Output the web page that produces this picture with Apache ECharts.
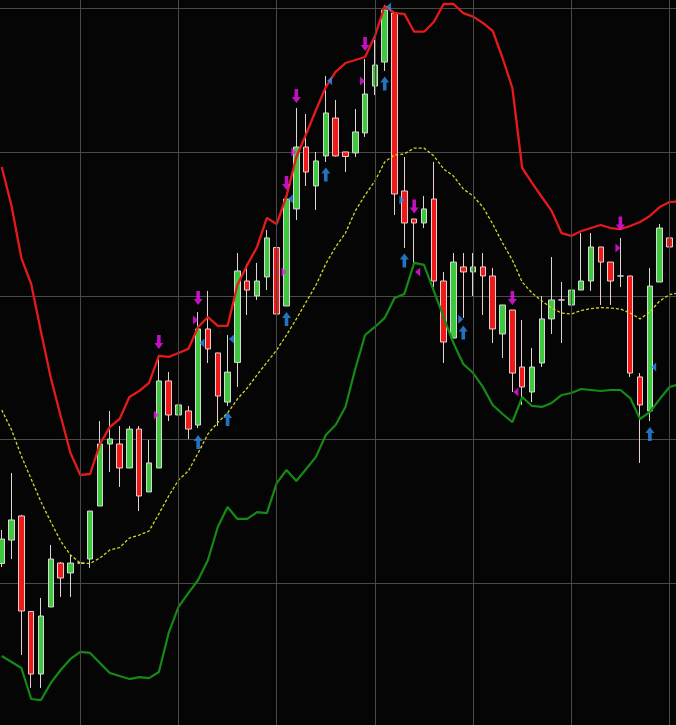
<!DOCTYPE html>
<html>
<head>
<meta charset="utf-8">
<script src="https://cdn.jsdelivr.net/npm/echarts@6/dist/echarts.min.js"></script>
<style>
html,body{margin:0;padding:0;background:#050505;}
#c{width:676px;height:725px;}
</style>
</head>
<body>
<div id="c"></div>
<script>
const categories = ['1','2','3','4','5','6','7','8','9','10','11','12','13','14','15','16','17','18','19','20',
'21','22','23','24','25','26','27','28','29','30','31','32','33','34','35','36','37','38','39','40',
'41','42','43','44','45','46','47','48','49','50','51','52','53','54','55','56','57','58','59','60',
'61','62','63','64','65','66','67','68','69','70'];

// [open, close, low, high]
const candles = [
[101.36,103.06,101.11,103.69],[102.99,104.39,101.67,107.66],[104.67,98.05,94.99,104.74],[98.02,93.66,92.69,98.05],
[93.66,97.70,92.69,98.96],[98.33,101.67,98.33,102.65],[101.39,100.35,99.03,101.46],[100.70,101.39,99.03,101.95],
[101.39,101.39,101.05,103.97],[101.67,105.01,101.05,105.01],[105.36,109.68,105.36,111.28],[109.68,110.03,107.73,111.98],
[109.68,108.01,106.69,110.93],[108.01,110.72,108.01,110.93],[110.72,106.06,105.01,110.93],[106.34,108.36,106.34,109.96],
[108.01,114.07,108.01,115.88],[114.07,111.70,111.28,114.69],[111.70,112.40,110.45,114.28],[111.98,110.72,110.03,112.33],
[111.00,117.69,110.79,118.87],[117.69,116.30,115.32,120.34],[116.02,113.02,110.93,116.02],[112.60,114.69,112.33,117.27],
[115.36,121.73,113.65,122.98],[121.03,120.40,118.66,122.22],[119.99,121.03,119.71,122.29],[121.31,124.03,120.40,124.58],
[123.36,118.73,118.73,124.58],[119.29,126.74,119.29,126.74],[126.05,130.36,125.28,133.08],[130.36,128.62,127.65,132.66],
[127.65,129.39,125.98,130.02],[129.74,132.73,129.32,135.31],[132.38,129.74,129.70,133.64],[130.02,129.70,128.62,130.02],
[129.95,131.41,129.67,133.01],[131.34,134.05,131.06,136.49],[134.61,136.07,133.98,137.81],[136.28,139.90,135.66,140.25],
[139.69,127.09,125.63,139.76],[127.30,125.07,123.33,129.67],[125.35,125.07,121.94,125.35],[125.07,126.05,124.72,126.95],
[126.74,121.03,120.61,129.32],[121.03,116.78,115.32,121.66],[117.06,122.35,117.06,122.98],[122.01,121.66,118.46,122.98],
[121.66,122.01,119.99,122.98],[122.01,121.38,118.66,122.98],[121.38,117.69,116.71,121.94],[117.34,119.36,115.67,119.36],
[119.01,114.62,113.30,119.01],[115.04,113.65,112.40,118.32],[113.30,115.04,112.60,116.37],[115.32,118.39,115.04,119.99],
[118.39,119.71,117.34,122.70],[119.71,119.71,116.71,120.96],[119.36,120.40,117.34,120.61],[120.40,121.03,120.40,124.37],
[121.03,123.40,120.34,124.37],[123.40,122.35,119.36,123.40],[122.35,121.03,119.36,122.35],[121.38,121.38,120.61,124.03],
[121.38,114.62,114.35,121.38],[114.35,112.40,108.36,114.62],[111.98,120.68,111.28,121.94],[120.96,124.72,120.96,125.00],
[124.03,123.40,123.26,128.62]
];

const upperBand = [128.97,126.25,122.63,120.82,117.48,114.28,111.63,109.05,107.52,107.59,
109.68,110.86,111.42,112.95,113.37,113.93,115.81,115.74,116.02,116.30,
117.83,118.52,117.90,117.90,120.75,122.15,123.40,125.42,125.00,126.95,
129.67,131.27,132.94,134.54,135.59,136.21,136.42,136.63,138.09,140.18,
139.69,139.63,138.39,138.39,139.07,140.32,140.32,139.69,139.44,139.00,
138.44,136.56,134.47,128.90,127.86,126.88,125.91,124.37,124.17,124.51,
124.72,124.93,124.72,124.65,124.86,125.14,125.56,126.18,126.53,126.57];

const middleBand = [112.05,110.66,108.84,107.24,105.64,104.25,102.92,101.95,101.39,101.36,
101.74,102.30,102.47,103.13,103.34,103.62,104.81,106.06,107.17,107.80,
109.05,110.38,111.18,111.84,112.81,113.58,114.49,115.36,116.23,117.27,
118.39,119.57,120.75,122.22,123.40,124.37,125.91,127.02,127.99,129.32,
129.81,129.88,130.29,130.29,129.74,128.83,128.34,127.44,126.95,126.18,
125.00,123.68,122.49,120.96,120.20,119.64,119.15,118.80,118.73,118.97,
119.11,119.18,119.15,119.08,118.80,118.39,118.87,119.64,120.09,120.20];

const lowerBand = [94.92,94.50,94.08,91.92,91.85,93.04,93.94,94.71,95.20,95.13,
94.43,93.73,93.52,93.31,93.45,93.38,93.80,96.52,98.33,99.30,
100.21,101.60,103.90,105.29,104.46,104.46,104.94,104.87,106.96,107.87,
107.10,107.94,108.78,110.31,111.00,112.26,114.90,117.27,117.83,118.46,
119.85,120.13,122.29,122.15,120.34,118.52,116.71,115.25,114.62,113.65,
112.40,111.77,111.21,112.95,112.33,112.26,112.54,113.09,113.23,113.51,
113.44,113.37,113.44,113.44,112.88,111.42,111.91,112.81,113.65,113.84];

// [candle index, price]
const sellArrows = [[16,116.78],[20,119.85],[29,127.86],[30,133.92],[37,137.54],[42,126.22],[52,119.85],[63,125.04]];
const buyArrows = [[20,109.82],[23,111.42],[29,118.39],[33,128.45],[39,134.79],[41,122.46],[47,117.45],[66,110.38]];
const magentaRightMarks = [[16,111.70],[20,118.32],[29,121.66],[30,130.02],[37,134.96],[63,123.33]];
const magentaLeftMarks = [[42,121.66],[52,113.30]];
const blueLeftMarks = [[20,116.71],[23,116.99],[29,126.74],[33,134.98],[39,140.11],[66,115.04]];
const blueRightMarks = [[41,126.67],[47,118.36]];
const splitColumns = ['9','19','29','39','49','59','69'];

const toPts = arr => arr.map(p => [categories[p[0]], p[1]]);

const DOWN = 'path://M3,0 L7,0 L7,8 L10,8 L5,14 L0,8 L3,8 Z';
const UP = 'path://M5,0 L10,6 L7,6 L7,14 L3,14 L3,6 L0,6 Z';
const TRI_R = 'path://M0,0 L6,5 L0,10 Z';
const TRI_L = 'path://M6,0 L0,5 L6,10 Z';

const chart = echarts.init(document.getElementById('c'));
chart.setOption({
  backgroundColor: '#050505',
  animation: false,
  grid: { left: -3.17, width: 687.4, top: -135, height: 861.6, containLabel: false, outerBoundsMode: 'none' },
  xAxis: {
    type: 'category', data: categories, boundaryGap: true,
    axisLine: { show: false }, axisTick: { show: false }, axisLabel: { show: false },
    splitLine: { show: false }
  },
  yAxis: {
    type: 'value', min: 90, max: 150, interval: 10,
    axisLine: { show: false }, axisTick: { show: false }, axisLabel: { show: false },
    splitLine: { show: true, lineStyle: { color: '#4a4a4a', width: 1 } }
  },
  series: [
    {
      type: 'line', data: [], z: 0, silent: true,
      markLine: {
        silent: true, symbol: ['none', 'none'], label: { show: false },
        lineStyle: { color: '#4a4a4a', type: 'solid', width: 1 },
        data: splitColumns.map(c => ({ xAxis: c }))
      }
    },
    {
      type: 'candlestick', data: candles, barWidth: 6, z: 2,
      itemStyle: {
        color: '#3ec83e', color0: '#ee1a1a',
        borderColor: '#d8d8d8', borderColor0: '#e8d0d0', borderColorDoji: '#d8d8d8', borderWidth: 1
      }
    },
    { type: 'line', data: middleBand, symbol: 'none', z: 3,
      lineStyle: { color: '#d6d62a', width: 1.3, type: [3, 2] } },
    { type: 'line', data: upperBand, symbol: 'none', z: 3,
      lineStyle: { color: '#e51a1a', width: 2.3 } },
    { type: 'line', data: lowerBand, symbol: 'none', z: 3,
      lineStyle: { color: '#158a15', width: 2.2 } },
    { type: 'scatter', data: toPts(sellArrows), symbol: DOWN, symbolSize: [9, 14], z: 5,
      itemStyle: { color: '#f014f0' } },
    { type: 'scatter', data: toPts(buyArrows), symbol: UP, symbolSize: [9, 14], z: 5,
      itemStyle: { color: '#2a8ef0' } },
    { type: 'scatter', data: toPts(magentaRightMarks), symbol: TRI_R, symbolSize: [5, 9], symbolOffset: [-2.5, 0], z: 5,
      itemStyle: { color: '#f014f0' } },
    { type: 'scatter', data: toPts(magentaLeftMarks), symbol: TRI_L, symbolSize: [5, 9], symbolOffset: [3.5, 0], z: 5,
      itemStyle: { color: '#f014f0' } },
    { type: 'scatter', data: toPts(blueLeftMarks), symbol: TRI_L, symbolSize: [5, 9], symbolOffset: [3.8, 0], z: 5,
      itemStyle: { color: '#2a8ef0' } },
    { type: 'scatter', data: toPts(blueRightMarks), symbol: TRI_R, symbolSize: [5, 9], symbolOffset: [-2.5, 0], z: 5,
      itemStyle: { color: '#2a8ef0' } }
  ]
});
</script>
</body>
</html>
